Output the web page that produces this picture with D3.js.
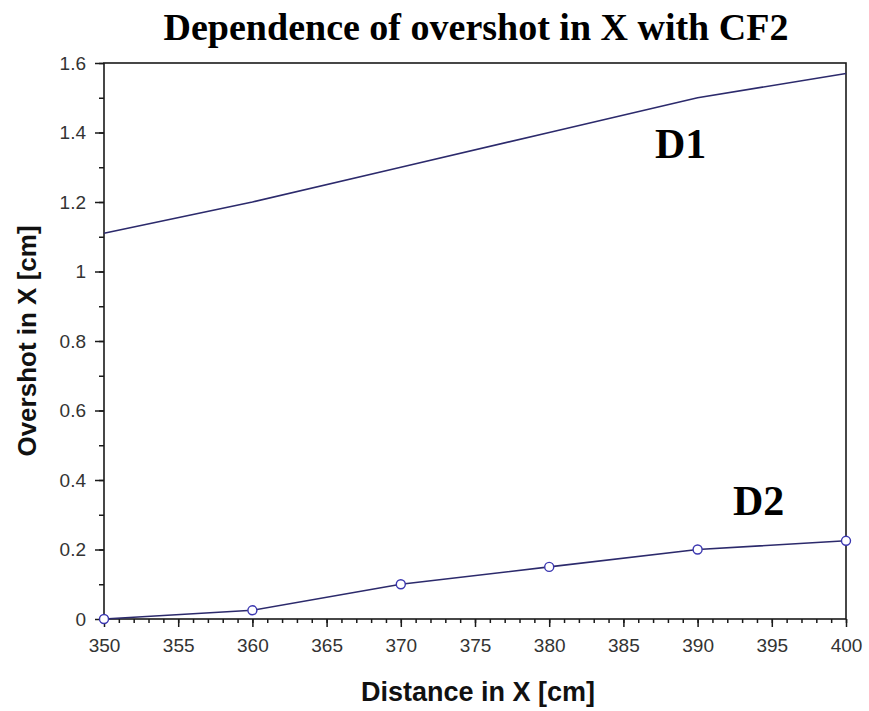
<!DOCTYPE html>
<html>
<head>
<meta charset="utf-8">
<script src="https://cdn.jsdelivr.net/npm/d3@7"></script>
<style>
  html, body { margin: 0; padding: 0; background: #fff; }
  svg { display: block; }
</style>
</head>
<body>
<svg id="chart" width="869" height="711"></svg>
<script>
// Distance in X (cm) and overshot in X (cm) for the two detectors
const distances = [350, 360, 370, 380, 390, 400];
const d1Values = [1.11, 1.2, 1.3, 1.4, 1.5, 1.57];
const d2Values = [0, 0.025, 0.1, 0.15, 0.2, 0.225];
const xTicks = [350, 355, 360, 365, 370, 375, 380, 385, 390, 395, 400];
const yTicks = [0, 0.2, 0.4, 0.6, 0.8, 1, 1.2, 1.4, 1.6];

const svg = d3.select("#chart");
const m = { left: 104, right: 846, top: 63, bottom: 619 };

const x = d3.scaleLinear().domain([350, 400]).range([m.left, m.right]);
const y = d3.scaleLinear().domain([0, 1.6]).range([m.bottom, m.top]);

const axisColor = "#1a1a1a";
const tickFont = "Liberation Sans, Arial, sans-serif";

// minor ticks
svg.append("g")
  .attr("transform", `translate(0,${m.bottom})`)
  .call(d3.axisBottom(x).tickValues(d3.range(350, 401, 1)).tickSize(4).tickFormat(""))
  .call(g => g.select(".domain").remove())
  .call(g => g.selectAll("line").attr("stroke", axisColor).attr("stroke-width", 1.5));
svg.append("g")
  .attr("transform", `translate(${m.left},0)`)
  .call(d3.axisLeft(y).tickValues(d3.range(0, 17).map(i => i / 10)).tickSize(5).tickFormat(""))
  .call(g => g.select(".domain").remove())
  .call(g => g.selectAll("line").attr("stroke", axisColor).attr("stroke-width", 1.5));

// major ticks with labels
const xAxis = svg.append("g")
  .attr("transform", `translate(0,${m.bottom})`)
  .call(d3.axisBottom(x).tickValues(xTicks).tickSize(8).tickPadding(12).tickFormat(d3.format("d")));
const yAxis = svg.append("g")
  .attr("transform", `translate(${m.left},0)`)
  .call(d3.axisLeft(y).tickValues(yTicks).tickSize(9).tickPadding(9).tickFormat(d => d3.format("")(d)));

[xAxis, yAxis].forEach(g => {
  g.select(".domain").remove();
  g.selectAll("line").attr("stroke", axisColor).attr("stroke-width", 1.5);
  g.selectAll("text")
    .attr("fill", "#333")
    .style("font-family", tickFont)
    .style("font-size", "19px");
});

// plot frame
svg.append("rect")
  .attr("x", m.left).attr("y", m.top)
  .attr("width", m.right - m.left).attr("height", m.bottom - m.top)
  .attr("fill", "none").attr("stroke", axisColor).attr("stroke-width", 1.6);

const line = d3.line()
  .x((d, i) => x(distances[i]))
  .y(d => y(d));

// D1 curve
svg.append("path")
  .datum(d1Values)
  .attr("d", line)
  .attr("fill", "none")
  .attr("stroke", "#2c2a6c")
  .attr("stroke-width", 1.6);

// D2 curve with markers
svg.append("path")
  .datum(d2Values)
  .attr("d", line)
  .attr("fill", "none")
  .attr("stroke", "#2c2a6c")
  .attr("stroke-width", 1.6);

svg.append("g")
  .selectAll("circle")
  .data(d2Values)
  .join("circle")
  .attr("cx", (d, i) => x(distances[i]))
  .attr("cy", d => y(d))
  .attr("r", 4.5)
  .attr("fill", "#fff")
  .attr("stroke", "#3a36b0")
  .attr("stroke-width", 1.4);

// series labels
const serif = "Liberation Serif, Times New Roman, serif";
svg.append("text")
  .attr("x", 655).attr("y", 158)
  .style("font-family", serif).style("font-weight", "bold").style("font-size", "42px")
  .attr("fill", "#000")
  .text("D1");
svg.append("text")
  .attr("x", 733).attr("y", 515)
  .style("font-family", serif).style("font-weight", "bold").style("font-size", "42px")
  .attr("fill", "#000")
  .text("D2");

// title
svg.append("text")
  .attr("x", 476).attr("y", 40)
  .attr("text-anchor", "middle")
  .style("font-family", serif).style("font-weight", "bold").style("font-size", "38px")
  .attr("fill", "#000")
  .text("Dependence of overshot in X with CF2");

// axis titles
svg.append("text")
  .attr("x", 478).attr("y", 701)
  .attr("text-anchor", "middle")
  .style("font-family", tickFont).style("font-weight", "bold").style("font-size", "27px")
  .attr("fill", "#111")
  .text("Distance in X [cm]");
svg.append("text")
  .attr("transform", "translate(36,341) rotate(-90)")
  .attr("text-anchor", "middle")
  .style("font-family", tickFont).style("font-weight", "bold").style("font-size", "26px")
  .attr("fill", "#111")
  .text("Overshot in X [cm]");
</script>
</body>
</html>
